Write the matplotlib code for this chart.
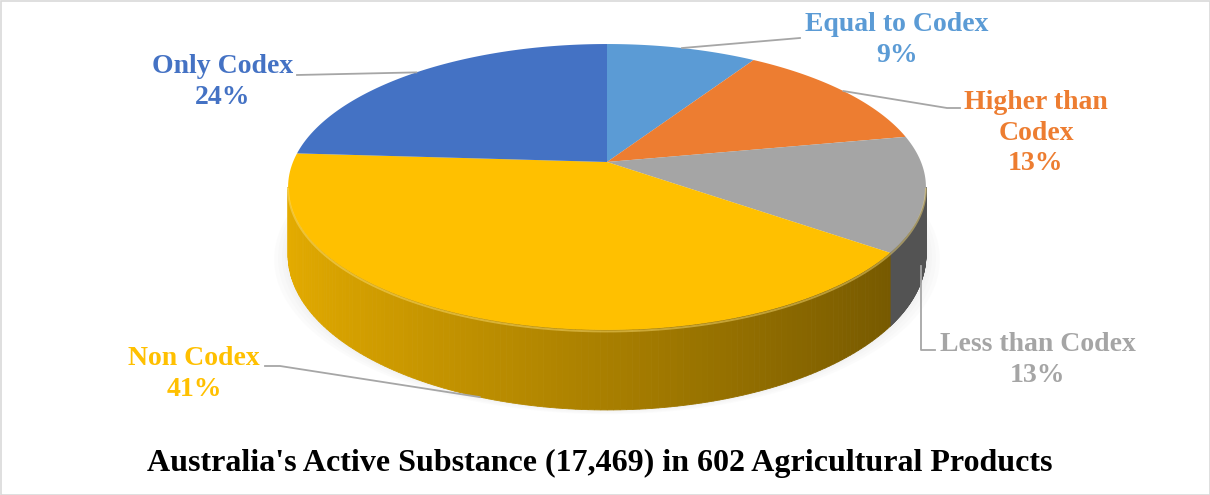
import numpy as np
import matplotlib.pyplot as plt
from matplotlib.patches import Polygon, Rectangle

# slices in clockwise order starting at 12 o'clock
labels = ["Equal to Codex", "Higher than\nCodex", "Less than Codex", "Non Codex", "Only Codex"]
shares = [9, 13, 13, 41, 24]
colors = ["#5B9BD5", "#ED7D31", "#A5A5A5", "#FFC000", "#4472C4"]
title = "Australia's Active Substance (17,469) in 602 Agricultural Products"

# pie geometry in pixels (y down), simple perspective
CX, CY = 607, 162
A, B, K = 314, 138.6, 0.1748
H = 66


def proj(theta, drop=False):
    t = np.radians(theta)
    u, v = np.cos(t), np.sin(t)
    w = 1 + K * v
    x = CX + A * u / w
    y = CY - B * v / w
    if drop:
        y = y + H / w
    return x, y


def shade(c, f):
    r, g, b = plt.matplotlib.colors.to_rgb(c)
    return (r * f, g * f, b * f)


fig = plt.figure(figsize=(12.1, 4.95), dpi=100)
ax = fig.add_axes([0, 0, 1, 1])
ax.set_xlim(0, 1210)
ax.set_ylim(495, 0)
ax.axis("off")

ax.add_patch(Rectangle((0.5, 0.5), 1209, 494, fill=False, ec="#D9D9D9", lw=1.2))

# soft shadow under the pie
full = np.linspace(0, 360, 200)
for grow in [14, 10, 6, 3]:
    sx, sy = proj(full, drop=True)
    sx = CX + (sx - CX) * (1 + grow / 320)
    sy = sy + grow * 0.3
    ax.add_patch(Polygon(np.column_stack([sx, sy]), closed=True, fc="#C4C4C4",
                         ec="none", alpha=0.05))

cum = np.concatenate([[0], np.cumsum(shares)]) / sum(shares)
starts = 90 - 360 * cum[:-1]
ends = 90 - 360 * cum[1:]

vis_left = -180 + np.degrees(np.arcsin(K))
vis_right = -np.degrees(np.arcsin(K))

# side walls
for s, e, col in zip(starts, ends, colors):
    hi, lo = min(s, vis_right), max(e, vis_left)
    if hi <= lo:
        continue
    th = np.linspace(hi, lo, 140)
    for t1, t2 in zip(th[:-1], th[1:]):
        u = np.cos(np.radians((t1 + t2) / 2))
        f = 0.66 - 0.24 * u
        if col == "#A5A5A5":
            f = 0.5
        x1, y1 = proj(t1)
        x2, y2 = proj(t2)
        x3, y3 = proj(t2, True)
        x4, y4 = proj(t1, True)
        c = shade(col, f)
        ax.add_patch(Polygon([(x1, y1), (x2, y2), (x3, y3), (x4, y4)], closed=True,
                             fc=c, ec=c, lw=0.6))

# top faces
for s, e, col in zip(starts, ends, colors):
    th = np.linspace(s, e, 120)
    xs, ys = proj(th)
    pts = np.column_stack([np.r_[CX, xs], np.r_[CY, ys]])
    ax.add_patch(Polygon(pts, closed=True, fc=col, ec="none"))

# light bevel along the front rim
th = np.linspace(vis_right, vis_left, 200)
bx, by = proj(th)
ax.plot(bx, by + 1.5, color="#FFE27A", lw=1.4, alpha=0.45, solid_capstyle="round")

# labels and leader lines
font = dict(family="Liberation Serif", weight="bold", fontsize=20)
label_pos = [(897, 40), (1036, 133), (1038, 360), (194, 374), (223, 82)]
elbows = [[(800, 38)], [(960, 108), (947, 108)], [(935, 350), (921, 350)],
          [(265, 366), (280, 366)], [(297, 75)]]
for lab, sh, s, e, col, (lx, ly), el in zip(labels, shares, starts, ends, colors,
                                          label_pos, elbows):
    mid = (s + e) / 2
    front = np.sin(np.radians(mid)) < 0
    axx, ayy = proj(mid, drop=front)
    if lab.startswith("Less"):
        axx, ayy = el[-1][0], ayy + 4
    px = [p[0] for p in el] + [axx]
    py = [p[1] for p in el] + [ayy]
    ax.plot(px, py, color="#A6A6A6", lw=1.3)
    ax.text(lx, ly, f"{lab}\n{sh}%", ha="center", va="center", color=col,
            linespacing=1.27, **font)

ax.text(600, 463, title, ha="center", va="center", color="black",
        family="Liberation Serif", weight="bold", fontsize=23)

fig.savefig("out.png", dpi=100)
